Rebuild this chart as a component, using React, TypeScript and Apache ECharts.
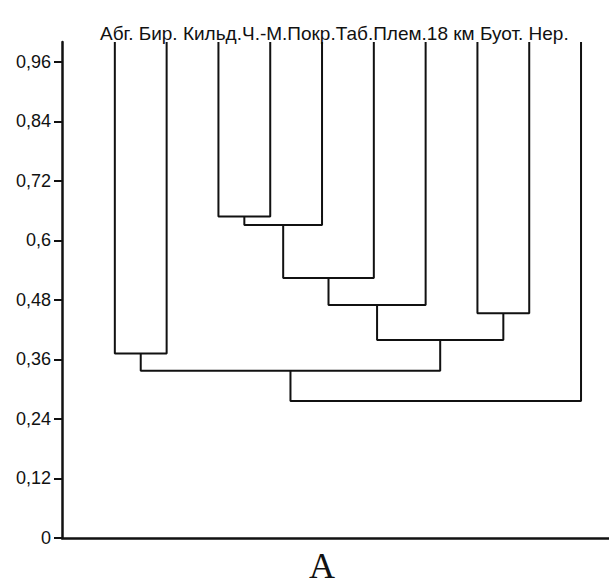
import React, { useEffect, useRef } from "react";
import * as echarts from "echarts";

const leaves = ["Абг.", "Бир.", "Кильд.", "Ч.-М.", "Покр.", "Таб.", "Плем.", "18 км", "Буот.", "Нер."];
const leafSeparators = [" ", " ", "", "", "", "", "", " ", " "];
// merges: cluster ids (0..9 leaves, 10+ merged clusters in order)
const mergeLeft = [0, 2, 11, 12, 13, 7, 14, 10, 17];
const mergeRight = [1, 3, 4, 5, 6, 8, 15, 16, 9];
const mergeHeight = [0.372, 0.648, 0.631, 0.524, 0.47, 0.453, 0.399, 0.337, 0.276];
const yTicks = [0, 0.12, 0.24, 0.36, 0.48, 0.6, 0.72, 0.84, 0.96];
const leafTop = 1.0;

function buildSeries() {
  const pos: number[] = leaves.map((_, i) => i);
  const h: number[] = leaves.map(() => leafTop);
  const series: any[] = [];
  mergeLeft.forEach((l, k) => {
    const r = mergeRight[k];
    const hh = mergeHeight[k];
    series.push({
      type: "line",
      data: [
        [pos[l], h[l]],
        [pos[l], hh],
        [pos[r], hh],
        [pos[r], h[r]],
      ],
      symbol: "none",
      lineStyle: { color: "#111", width: 2 },
      silent: true,
    });
    pos.push((pos[l] + pos[r]) / 2);
    h.push(hh);
  });
  return series;
}

export default function App() {
  const ref = useRef<HTMLDivElement>(null);
  useEffect(() => {
    if (!ref.current) return;
    const chart = echarts.init(ref.current, null, { renderer: "svg" });
    const labelText = leaves.map((t, i) => t + (i < leafSeparators.length ? leafSeparators[i] : "")).join("");
    chart.setOption({
      animation: false,
      backgroundColor: "#fff",
      grid: { left: 62, right: 0, top: 42, bottom: 48 },
      title: {
        text: labelText,
        left: 95,
        top: 19,
        textStyle: { fontFamily: "Liberation Sans, Arial", fontSize: 19, fontWeight: "normal", color: "#111" },
      },
      xAxis: {
        type: "value",
        min: -1.02,
        max: 9.54,
        axisLine: { show: true, onZero: false, lineStyle: { color: "#111", width: 2.5 } },
        axisTick: { show: false },
        axisLabel: { show: false },
        splitLine: { show: false },
      },
      yAxis: {
        type: "value",
        min: 0,
        max: 1.0,
        axisLine: { show: true, onZero: false, lineStyle: { color: "#111", width: 2.5 } },
        axisTick: { show: true, length: 8, customValues: yTicks, lineStyle: { color: "#111", width: 2 } },
        axisLabel: {
          customValues: yTicks,
          margin: 11,
          fontFamily: "Liberation Sans, Arial",
          fontSize: 18,
          color: "#111",
          formatter: (v: number) => String(v).replace(".", ","),
        },
        splitLine: { show: false },
      },
      graphic: [
        {
          type: "text",
          left: 309,
          top: 548,
          style: { text: "A", font: "36px 'Liberation Serif', serif", fill: "#111" },
        },
      ],
      series: buildSeries(),
    });
    return () => chart.dispose();
  }, []);
  return <div ref={ref} style={{ width: 609, height: 586, position: "absolute", left: 0, top: 0 }} />;
}
